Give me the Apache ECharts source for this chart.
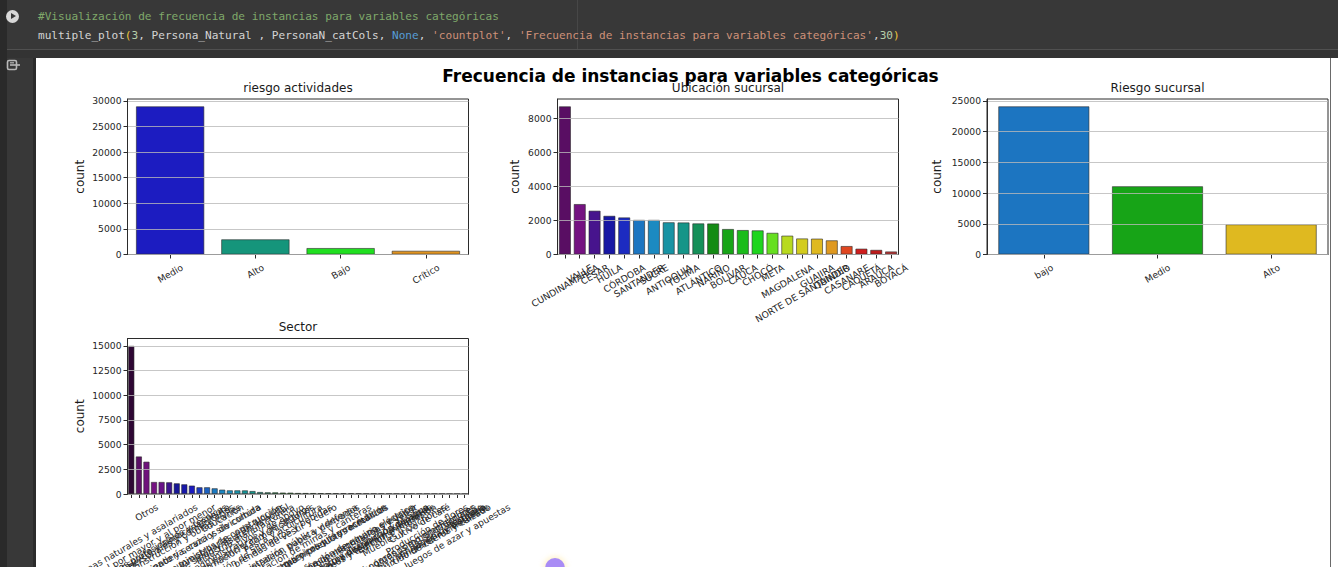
<!DOCTYPE html>
<html>
<head>
<meta charset="utf-8">
<script src="https://cdn.jsdelivr.net/npm/echarts@6/dist/echarts.min.js"></script>
<style>
  html, body { margin: 0; padding: 0; width: 1338px; height: 567px; overflow: hidden; background: #383838; }
  .abs { position: absolute; }
  #leftStrip { left: 0; top: 0; width: 7px; height: 567px; background: #2a2a2a; }
  #ruler { left: 577px; top: 0; width: 1px; height: 49px; background: #474747; }
  #sep { left: 7px; top: 49px; width: 1331px; height: 1px; background: #505050; }
  #sepBand { left: 7px; top: 50px; width: 1331px; height: 8px; background: #333333; }
  #runBtn { left: 6px; top: 10px; width: 13px; height: 13px; border-radius: 50%; background: #d8d8d8; }
  #runBtn::after { content: ""; position: absolute; left: 5px; top: 3px; border-left: 5px solid #383838; border-top: 3.5px solid transparent; border-bottom: 3.5px solid transparent; }
  .code { left: 38px; font: 11.1px/14px "DejaVu Sans Mono", "Liberation Mono", monospace; white-space: pre; color: #d4d4d4; }
  .cm { color: #7fa86a; }
  .br { color: #f0c63a; }
  .nm { color: #b5cea8; }
  .kw { color: #569cd6; }
  .st { color: #ce9178; }
  #outEdge { left: 33px; top: 58px; width: 3px; height: 509px; background: #2b2b2b; }
  #output { left: 36px; top: 58px; width: 1302px; height: 509px; background: #ffffff; }
  #rightEdge { left: 1330px; top: 58px; width: 1px; height: 509px; background: #6a6a6a; }
  #chart { left: 36px; top: 58px; width: 1294px; height: 509px; }
  #outIcon { left: 6px; top: 59px; }
  #fab { left: 545px; top: 558px; width: 20px; height: 20px; border-radius: 50%; background: #a98cf5; box-shadow: 0 0 5px 2px rgba(255, 240, 190, 0.7); }
</style>
</head>
<body>
<div id="leftStrip" class="abs"></div>
<div id="ruler" class="abs"></div>
<div id="sep" class="abs"></div>
<div id="sepBand" class="abs"></div>
<div id="runBtn" class="abs"></div>
<div class="abs code" style="top:10px"><span class="cm">#Visualización de frecuencia de instancias para variables categóricas</span></div>
<div class="abs code" style="top:29px">multiple_plot<span class="br">(</span><span class="nm">3</span>, Persona_Natural , PersonaN_catCols, <span class="kw">None</span>, <span class="st">'countplot'</span>, <span class="st">'Frecuencia de instancias para variables categóricas'</span>,<span class="nm">30</span><span class="br">)</span></div>
<svg id="outIcon" class="abs" width="16" height="12" viewBox="0 0 16 12">
  <rect x="1.5" y="1.5" width="9" height="9" rx="1.5" fill="none" stroke="#b8b8b8" stroke-width="1.6"/>
  <line x1="4" y1="6" x2="14" y2="6" stroke="#b8b8b8" stroke-width="1.6"/>
  <line x1="4" y1="3.8" x2="8" y2="3.8" stroke="#b8b8b8" stroke-width="1.2"/>
</svg>
<div id="outEdge" class="abs"></div>
<div id="output" class="abs"></div>
<div id="rightEdge" class="abs"></div>
<div id="chart" class="abs"></div>
<div id="fab" class="abs"></div>

<script>
// ---- data: counts per category, in seaborn countplot order ----
const figureTitle = 'Frecuencia de instancias para variables categóricas';

const riesgoActividadesTitle = 'riesgo actividades';
const riesgoActividadesCats = ['Medio', 'Alto', 'Bajo', 'Crítico'];
const riesgoActividadesCounts = [28900, 2950, 1250, 720];
const riesgoActividadesTicks = [0, 5000, 10000, 15000, 20000, 25000, 30000];

const ubicacionTitle = 'Ubicación sucursal';
const ubicacionCats = ['CUNDINAMARCA', 'VALLE', 'CESAR', 'HUILA', 'CÓRDOBA', 'SANTANDER', 'SUCRE',
  'ANTIOQUIA', 'TOLIMA', 'ATLÁNTICO', 'NARIÑO', 'BOLÍVAR', 'CAUCA', 'CHOCÓ', 'META', 'MAGDALENA',
  'NORTE DE SANTANDER', 'GUAJIRA', 'QUINDÍO', 'CASANARE', 'CAQUETÁ', 'ARAUCA', 'BOYACÁ'];
const ubicacionCounts = [8700, 2960, 2570, 2270, 2175, 2030, 2030, 1890, 1880, 1825, 1820, 1495,
  1435, 1415, 1270, 1105, 940, 930, 830, 495, 340, 270, 175];
const ubicacionTicks = [0, 2000, 4000, 6000, 8000];

const riesgoSucursalTitle = 'Riesgo sucursal';
const riesgoSucursalCats = ['bajo', 'Medio', 'Alto'];
const riesgoSucursalCounts = [24100, 11100, 4900];
const riesgoSucursalTicks = [0, 5000, 10000, 15000, 20000, 25000];

const sectorTitle = 'Sector';
const sectorCats = [
  'Personas naturales y asalariados', 'Comercio al por mayor y al por menor', 'Otros',
  'Actividades profesionales y técnicas', 'Servicios personales y comunitarios',
  'Transporte y almacenamiento', 'Agricultura, ganadería, caza y silvicultura',
  'Construcción y obras civiles', 'Alojamiento y servicios de comida',
  'Materiales y suministros de construcción', 'Actividades inmobiliarias y de alquiler',
  'Servicios de salud y asistencia social', 'Educación', 'Servicios administrativos y de apoyo',
  'Actividades financieras y de seguros', 'Industria manufacturera', 'Información y comunicaciones',
  'Elaboración de alimentos y bebidas', 'Textiles, prendas de vestir y cuero',
  'Industria de la madera, papel y derivados', 'Pesca y acuicultura',
  'Administración pública y defensa', 'Actividades de entretenimiento y recreación',
  'Explotación de minas y canteras', 'Productos químicos y farmacéuticos',
  'Metalurgia y productos metálicos', 'Suministro de energía eléctrica, gas y vapor',
  'Captación, tratamiento y distribución de agua', 'Fabricación de maquinaria y equipo',
  'Fabricación de equipo eléctrico', 'Vehículos automotores y autopartes',
  'Productos de caucho y plástico', 'Correos y telecomunicaciones',
  'Actividades de los hogares como empleadores', 'Organizaciones y órganos extraterritoriales',
  'Edición e impresión', 'Muebles y colchones', 'Coquización y refinación de petróleo',
  'Cultivo de café', 'Producción de flores', 'Curtido de cueros y calzado',
  'Minerales no metálicos', 'Joyería y bisutería', 'Juegos de azar y apuestas', 'Reciclaje'];
const sectorCounts = [15000, 3800, 3270, 1215, 1215, 1185, 1080, 980, 850, 680, 680, 575, 440,
  370, 370, 365, 300, 200, 170, 165, 140, 135, 100, 95, 90, 85, 80, 75, 70, 65, 60, 30, 25, 20,
  18, 15, 12, 10, 8, 6, 5, 4, 3, 2, 1];
const sectorTicks = [0, 2500, 5000, 7500, 10000, 12500, 15000];

// ---- styling helpers ----
const FONT = '"DejaVu Sans", "Liberation Sans", sans-serif';
const TICK_SIZE = 9.2;
const TICK_LINE = 10;
const TILT_DEG = 30;
const TILT = TILT_DEG * Math.PI / 180;
const INK = '#2b2b2b';
const LABEL_INK = '#262626';

// nipy_spectral colormap segments (value at 0, 0.05, ..., 1.0)
const NS_R = [0, .4667, .5333, 0, 0, 0, 0, 0, 0, 0, 0, 0, 0, .7333, .9333, 1, 1, 1, .8667, .8, .8];
const NS_G = [0, 0, 0, 0, 0, .4667, .6, .6667, .6667, .6, .7333, .8667, 1, 1, .9333, .8, .6, 0, 0, 0, .8];
const NS_B = [0, .5333, .6, .6667, .8667, .8667, .8667, .6667, .5333, 0, 0, 0, 0, 0, 0, 0, 0, 0, 0, 0, .8];

function nipySpectral(t) {
  const p = t * 20, i = Math.min(19, Math.floor(p)), f = p - i;
  return [NS_R, NS_G, NS_B].map(a => a[i] + (a[i + 1] - a[i]) * f);
}
function desaturate(rgb, prop) {
  const [r, g, b] = rgb;
  const mx = Math.max(r, g, b), mn = Math.min(r, g, b), l = (mx + mn) / 2;
  if (mx === mn) return rgb;
  const d = mx - mn;
  let s = l <= 0.5 ? d / (mx + mn) : d / (2 - mx - mn);
  let h;
  if (mx === r) h = ((g - b) / d) % 6; else if (mx === g) h = (b - r) / d + 2; else h = (r - g) / d + 4;
  h = (h / 6 + 1) % 1;
  s *= prop;
  const q = l < 0.5 ? l * (1 + s) : l + s - l * s, pp = 2 * l - q;
  const hue = (t) => { t = (t + 1) % 1; if (t < 1 / 6) return pp + (q - pp) * 6 * t; if (t < 0.5) return q; if (t < 2 / 3) return pp + (q - pp) * (2 / 3 - t) * 6; return pp; };
  return [hue(h + 1 / 3), hue(h), hue(h - 1 / 3)];
}
function palette(n) {
  const out = [];
  for (let i = 1; i <= n; i++) {
    const c = desaturate(nipySpectral(i / (n + 1)), 0.75).map(v => Math.round(v * 255));
    out.push('rgb(' + c.join(',') + ')');
  }
  return out;
}

// Tilted tick labels centred under their tick (rotation=30, ha='center'):
// each label gets an invisible spacer line above it and a spacer after it,
// sized from its own width, so the centred rich block lands the text correctly.
const measureCtx = document.createElement('canvas').getContext('2d');
function tiltedLabelRich(cats) {
  measureCtx.font = TICK_SIZE + 'px ' + FONT;
  const rich = { t: { fontSize: TICK_SIZE, fontFamily: FONT, color: LABEL_INK, lineHeight: TICK_LINE, height: TICK_LINE } };
  cats.forEach((c, i) => {
    const w = measureCtx.measureText(c).width;
    const drop = w * Math.sin(TILT) * Math.cos(TILT);
    rich['g' + i] = { fontSize: 1, width: 1, height: drop, lineHeight: drop };
    rich['s' + i] = { fontSize: 1, width: w * Math.sin(TILT) * Math.sin(TILT), height: TICK_LINE, lineHeight: TICK_LINE };
  });
  return rich;
}

// subplot frames (px inside the chart container)
const panels = [
  { title: riesgoActividadesTitle, cats: riesgoActividadesCats, counts: riesgoActividadesCounts, ticks: riesgoActividadesTicks, left: 91.5, top: 41, nameGap: 42 },
  { title: ubicacionTitle, cats: ubicacionCats, counts: ubicacionCounts, ticks: ubicacionTicks, left: 521.5, top: 41, nameGap: 36.5 },
  { title: riesgoSucursalTitle, cats: riesgoSucursalCats, counts: riesgoSucursalCounts, ticks: riesgoSucursalTicks, left: 951, top: 41, nameGap: 44 },
  { title: sectorTitle, cats: sectorCats, counts: sectorCounts, ticks: sectorTicks, left: 91.5, top: 280.5, nameGap: 42 }
];
const PANEL_W = 341, PANEL_H = 155.5;

const grids = [], xAxes = [], yAxes = [], series = [];
const graphics = [{
  type: 'text', x: 654.5, y: 18.1, silent: true,
  style: { text: figureTitle, font: 'bold 17px ' + FONT, fill: '#000', align: 'center', verticalAlign: 'middle', textAlign: 'center', textVerticalAlign: 'middle' }
}];

panels.forEach((p, k) => {
  const yMax = Math.max(...p.counts) * 1.05;
  const step = p.ticks[1] - p.ticks[0];
  const colors = palette(p.cats.length);
  grids.push({
    left: p.left, top: p.top, width: PANEL_W, height: PANEL_H,
    containLabel: false, outerBoundsMode: 'none',
    show: true, borderColor: INK, borderWidth: 1, backgroundColor: 'transparent'
  });
  xAxes.push({
    type: 'category', gridIndex: k, data: p.cats,
    axisLine: { show: true, lineStyle: { color: INK, width: 1 } },
    axisTick: { show: true, alignWithLabel: true, length: 4, lineStyle: { color: INK, width: 1 } },
    axisLabel: {
      interval: 0, rotate: TILT_DEG, hideOverlap: false, margin: 12,
      align: 'center', verticalAlign: 'middle',
      fontSize: TICK_SIZE, fontFamily: FONT, color: LABEL_INK,
      formatter: (value, index) => '{g' + index + '|\u00a0}\n{t|' + value + '}{s' + index + '|\u00a0}',
      rich: tiltedLabelRich(p.cats)
    },
    splitLine: { show: false }
  });
  yAxes.push({
    type: 'value', gridIndex: k, min: 0, max: yMax, interval: step, z: 3,
    name: 'count', nameLocation: 'middle', nameGap: p.nameGap, nameRotate: 90,
    nameTextStyle: { fontSize: 12, fontFamily: FONT, color: '#1a1a1a' },
    axisLine: { show: true, lineStyle: { color: INK, width: 1 } },
    axisTick: { show: true, length: 4, lineStyle: { color: INK, width: 1 }, customValues: p.ticks },
    axisLabel: { fontSize: TICK_SIZE, fontFamily: FONT, color: LABEL_INK, margin: 6, customValues: p.ticks, formatter: (v) => String(Math.round(v)) },
    splitLine: { show: true, lineStyle: { color: 'rgba(185,185,185,0.8)', width: 1 } }
  });
  series.push({
    type: 'bar', xAxisIndex: k, yAxisIndex: k, barWidth: '80%', z: 2,
    itemStyle: { borderColor: 'rgba(40,40,40,0.85)', borderWidth: 0.7 },
    data: p.counts.map((v, i) => ({ value: v, itemStyle: { color: colors[i] } }))
  });
  graphics.push({
    type: 'text', x: p.left + PANEL_W / 2, y: p.top - 11.5, silent: true,
    style: { text: p.title, font: '12px ' + FONT, fill: '#1a1a1a', align: 'center', verticalAlign: 'middle', textAlign: 'center', textVerticalAlign: 'middle' }
  });
});

const chart = echarts.init(document.getElementById('chart'), null, { renderer: 'svg' });
chart.setOption({
  animation: false,
  backgroundColor: 'transparent',
  textStyle: { fontFamily: FONT },
  grid: grids,
  xAxis: xAxes,
  yAxis: yAxes,
  series: series,
  graphic: graphics
});
</script>
</body>
</html>
